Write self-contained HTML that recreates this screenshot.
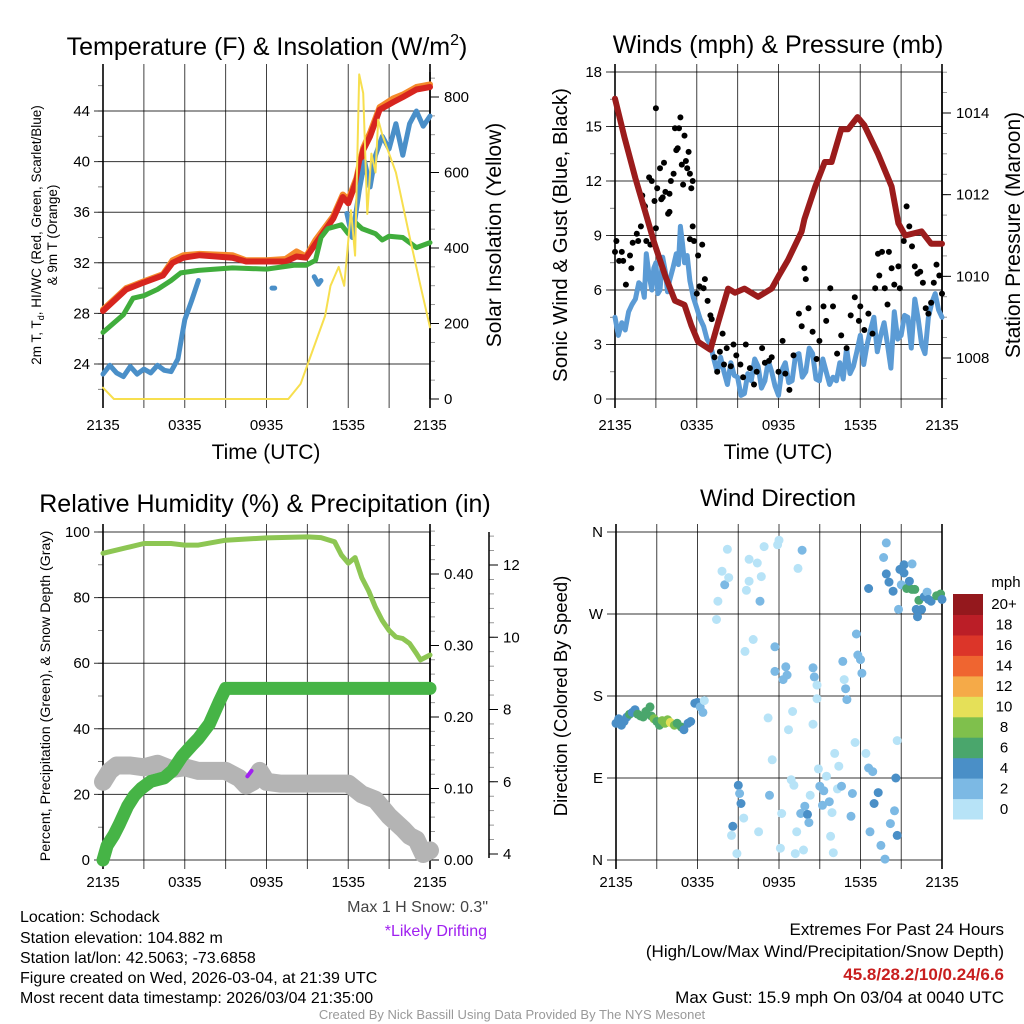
<!DOCTYPE html>
<html><head><meta charset="utf-8">
<style>
html,body{margin:0;padding:0;background:#fff;}
svg{display:block;font-family:"Liberation Sans",Arial,sans-serif;}
</style></head>
<body>
<svg id="fig" width="1024" height="1024" viewBox="0 0 1024 1024" xmlns="http://www.w3.org/2000/svg">
<rect width="1024" height="1024" fill="#fff"/>
<g id="p1"></g>
<g id="p2"></g>
<g id="p3"></g>
<g id="p4"></g>

<text x="267" y="55" font-size="25" text-anchor="middle">Temperature (F) &amp; Insolation (W/m<tspan dy="-10" font-size="16">2</tspan><tspan dy="10">)</tspan></text>
<text x="778" y="53" font-size="25" text-anchor="middle">Winds (mph) &amp; Pressure (mb)</text>
<text x="265" y="512" font-size="25" text-anchor="middle">Relative Humidity (%) &amp; Precipitation (in)</text>
<text x="778" y="506" font-size="24" text-anchor="middle">Wind Direction</text>

<text x="266" y="459" font-size="21" text-anchor="middle">Time (UTC)</text>
<text x="778" y="459" font-size="21" text-anchor="middle">Time (UTC)</text>

<g transform="translate(41,235) rotate(-90)">
<text x="0" y="0" font-size="13.5" text-anchor="middle">2m T, T<tspan font-size="9" dy="3">d</tspan><tspan dy="-3">, HI/WC (Red, Green, Scarlet/Blue)</tspan></text>
<text x="0" y="16" font-size="13.5" text-anchor="middle">&amp; 9m T (Orange)</text>
</g>
<text transform="translate(501,235) rotate(-90)" font-size="21" text-anchor="middle">Solar Insolation (Yellow)</text>
<text transform="translate(567,235) rotate(-90)" font-size="20.5" text-anchor="middle">Sonic Wind &amp; Gust (Blue, Black)</text>
<text transform="translate(1020,235) rotate(-90)" font-size="21" text-anchor="middle">Station Pressure (Maroon)</text>
<text transform="translate(50,696) rotate(-90)" font-size="14.2" text-anchor="middle">Percent, Precipitation (Green), &amp; Snow Depth (Gray)</text>
<text transform="translate(567,696) rotate(-90)" font-size="18.5" text-anchor="middle">Direction (Colored By Speed)</text>

<g font-size="16">
<text x="20" y="922">Location: Schodack</text>
<text x="20" y="943">Station elevation: 104.882 m</text>
<text x="20" y="963">Station lat/lon: 42.5063; -73.6858</text>
<text x="20" y="983">Figure created on Wed, 2026-03-04, at 21:39 UTC</text>
<text x="20" y="1003">Most recent data timestamp: 2026/03/04 21:35:00</text>
</g>
<text x="488" y="912" font-size="16" fill="#444" text-anchor="end">Max 1 H Snow: 0.3"</text>
<text x="487" y="936" font-size="16" fill="#a020f0" text-anchor="end">*Likely Drifting</text>
<g font-size="17" text-anchor="end">
<text x="1004" y="935">Extremes For Past 24 Hours</text>
<text x="1004" y="957">(High/Low/Max Wind/Precipitation/Snow Depth)</text>
<text x="1004" y="980" fill="#c81e1e" font-weight="bold">45.8/28.2/10/0.24/6.6</text>
<text x="1004" y="1003">Max Gust: 15.9 mph On 03/04 at 0040 UTC</text>
</g>
<text x="512" y="1019" font-size="13" fill="#999" text-anchor="middle">Created By Nick Bassill Using Data Provided By The NYS Mesonet</text>
</svg>
<script>
// ---------- data ----------
const timeLabels = ["2135","0335","0935","1535","2135"];
// Panel 1
const tempHours = [0,1.7,2.9,4.4,5.1,5.9,7.1,9.5,10.5,12,13.4,14.2,14.9,15.6,16.9,17.6,18,18.6,19.1,19.6,20.3,21.3,22,23,24];
const tempVals  = [28.2,29.9,30.4,31.0,32.0,32.4,32.6,32.4,32.1,32.1,32.1,32.5,32.4,33.5,35.5,37.2,36.7,38.5,40.9,42,44.1,44.7,45.1,45.7,45.9];
const t9mVals   = [28.3,30.0,30.5,31.1,32.2,32.6,32.7,32.6,32.2,32.2,32.3,32.9,32.5,33.8,35.7,37.4,37.0,38.7,41.1,42.3,44.3,45.0,45.3,45.9,46.1];
const dewHoursA = [0,0.5,1,1.5,2,2.5,3,3.5,4,4.5,5,5.5,6,6.5,7];
const dewValsA  = [23.2,23.9,23.3,23.0,23.8,23.2,23.6,23.3,23.9,23.5,23.4,24.4,27.5,29.0,30.6];
const dewHoursB = [12.4,12.6];
const dewValsB  = [30.0,30.0];
const dewHoursC = [15.5,15.8,16.0];
const dewValsC  = [30.9,30.3,30.6];
const dewHoursD = [17.9,18.3,18.8,19.2,19.6,20,20.5,21,21.5,22,22.5,23,23.5,24];
const dewValsD  = [35.9,34.0,37.7,40.0,38.0,40.5,42.0,41.0,43.0,40.5,43.0,44.0,42.8,43.6];
const wcHours = [0,1.5,2.2,3,4,5,5.7,7,9.5,12,14,14.9,15.6,16,16.5,17.5,18,18.5,19,20,20.5,21,22,23,24];
const wcVals  = [26.5,27.9,29.2,29.4,29.9,30.6,31.2,31.4,31.6,31.5,31.8,31.8,32.2,34.0,34.7,35.0,34.3,35.2,34.7,34.3,33.8,34.1,34.0,33.2,33.6];
const solarHours = [0,0.8,13.6,14.5,15.2,15.7,16.3,16.7,17.3,17.7,18.2,18.5,18.8,19.1,19.4,19.7,20.0,20.2,20.5,21.5,22.5,23.3,24];
const solarVals  = [30,0,0,40,110,160,220,300,350,300,500,380,860,810,490,650,600,740,700,600,430,300,190];
const tempTicks = [24,28,32,36,40,44];
const solarTicks = [0,200,400,600,800];
// Panel 2
const presHours = [0,0.7,1.5,2.2,2.9,3.7,4.4,5.1,5.6,6.1,7,7.6,8.3,8.8,9.5,10.5,11.5,12,12.7,13.7,13.9,14.7,15.4,15.9,16.6,17.1,17.8,18.3,19.3,20.3,20.8,21.3,22.5,23.2,24];
const presVals  = [1014.35,1013.4,1012.4,1011.6,1010.8,1010.0,1009.4,1009.3,1008.8,1008.4,1008.2,1008.9,1009.7,1009.6,1009.7,1009.5,1009.7,1010.0,1010.4,1011.1,1011.4,1012.2,1012.8,1012.8,1013.6,1013.6,1013.9,1013.7,1013.0,1012.2,1011.3,1011.0,1011.1,1010.8,1010.8];
const windHours = [0,0.25,0.5,0.75,1,1.25,1.5,1.75,2,2.15,2.3,2.5,2.7,2.85,3,3.15,3.3,3.5,3.7,3.85,4,4.25,4.5,4.65,4.8,4.95,5.1,5.3,5.5,5.75,6,6.25,6.5,6.75,7,7.25,7.5,7.75,8,8.25,8.5,8.75,9,9.25,9.5,9.75,10,10.25,10.5,10.75,11,11.25,11.5,11.75,12,12.25,12.5,12.75,13,13.25,13.5,13.75,14,14.25,14.5,14.75,15,15.25,15.5,15.75,16,16.25,16.5,16.75,17,17.25,17.5,17.75,18,18.25,18.5,18.75,19,19.25,19.5,19.75,20,20.25,20.5,20.75,21,21.25,21.5,21.75,22,22.25,22.5,22.75,23,23.25,23.5,23.75,24];
const windVals  = [4.5,3.5,4.2,3.8,4.8,5.2,5.5,6.4,6.2,5.6,8.0,6.8,6.0,7.2,7.5,5.8,6.0,7.8,7.0,5.9,6.5,7.2,8.0,7.4,9.5,8.6,7.5,7.9,6.5,5.6,5.0,4.4,4.0,3.3,3.0,2.2,1.5,2.3,1.5,0.8,2.0,1.3,1.2,0.2,0.3,1.4,1.0,2.2,1.8,0.6,1.0,2.1,1.5,0.7,0.2,1.6,2.0,0.9,1.0,2.4,2.5,1.2,1.5,2.8,2.5,1.1,1.0,2.2,1.5,0.8,1.2,1.0,2.0,1.1,2.8,1.4,1.8,2.6,3.5,1.9,3.0,3.8,4.5,2.6,3.5,4.2,3.0,1.7,4.8,3.3,3.5,4.6,4.5,2.8,5.5,4.4,3.0,2.5,4.5,5.3,5.8,4.9,4.5];
const gustHours = [0,0.1,0.3,0.5,0.6,0.8,1.1,1.2,1.3,1.6,1.7,1.9,2.0,2.1,2.2,2.3,2.5,2.6,2.7,2.9,3.0,3.1,3.3,3.4,3.0,3.5,3.6,3.7,3.9,4.0,4.1,4.3,4.0,4.5,4.6,4.4,4.7,4.9,4.8,5.0,5.1,5.2,5.3,5.4,5.5,5.6,5.7,5.7,5.8,5.5,6.1,6.2,6.4,6.5,6.6,6.0,6.8,7.0,7.1,7.3,7.5,7.7,7.9,8.0,8.2,8.5,8.7,8.9,9.2,9.4,9.6,9.9,10.2,10.4,10.8,11.0,11.3,11.5,12.0,12.3,12.5,12.8,13.1,13.5,13.7,13.9,14.0,14.2,14.5,14.8,15.0,15.3,15.5,15.8,16.0,16.3,16.6,17.0,17.3,17.6,17.9,18.0,18.3,18.6,18.9,19.1,19.3,19.4,19.6,19.8,20.0,20.1,20.3,20.5,20.8,20.9,21.2,21.4,21.6,21.8,22.0,22.2,22.4,22.6,22.8,23.0,23.2,23.4,23.6,23.8,24];
const gustVals  = [8.1,8.7,7.6,8.1,7.6,6.3,7.9,7.2,8.6,9.1,8.7,9.5,11.2,10.7,10.6,8.7,12.2,8.5,12.0,10.9,9.4,11.6,12.7,11.0,16.0,11.1,13.0,11.4,10.2,11.3,12.0,12.4,10.3,13.7,13.8,14.9,14.9,12.9,15.5,11.8,14.5,13.1,12.7,13.6,12.4,11.6,12.0,9.5,8.7,8.8,7.9,6.2,8.5,6.1,6.6,5.8,5.4,4.6,4.4,2.3,1.5,2.6,3.6,1.9,2.8,1.8,3.0,2.4,1.9,1.2,3.0,1.7,0.8,1.5,2.8,2.0,2.1,2.3,1.5,3.2,1.4,0.5,2.4,4.7,4.0,7.2,6.6,5.0,3.7,2.2,3.2,5.1,4.3,6.1,5.1,2.5,3.5,2.8,4.6,5.6,4.3,5.1,3.8,4.7,3.6,6.1,8.0,6.8,8.1,6.1,5.2,8.1,7.2,6.3,7.3,6.1,8.7,10.6,9.5,8.4,7.3,6.9,7.0,6.4,5.0,4.7,5.3,6.4,7.4,6.8,5.8];
const windTicks = [0,3,6,9,12,15,18];
const presTicks = [1008,1010,1012,1014];
// Panel 3
const rhHours = [0,2,3,5,6,7,9,12,15,16,17,17.5,18,18.5,19,19.5,20,20.5,21,21.5,22,22.5,23,23.3,24];
const rhVals  = [93.5,95.5,96.5,96.5,96,96,97.5,98.2,98.5,98.3,97,93,90.5,92.2,86,82,77,73,70,68,67.5,66,63,61,62.5];
const precipHours = [0,0.3,0.8,1.2,1.8,2.3,2.8,3.5,4.5,5.1,5.8,6.5,7,7.8,8.5,9,24];
const precipVals  = [0,0.02,0.035,0.05,0.075,0.09,0.1,0.11,0.115,0.125,0.145,0.16,0.17,0.19,0.22,0.24,0.24];
const snowHours = [0,0.5,1,2,3,4,5,6,7,8,9,10,10.5,11,11.5,12,13,14,17,18,19,20,21,22,22.5,23,23.5,24];
const snowVals  = [6.0,6.3,6.45,6.45,6.4,6.5,6.35,6.4,6.3,6.3,6.3,6.1,5.9,6.0,6.3,6.0,5.95,5.95,5.95,5.95,5.65,5.5,5.05,4.7,4.5,4.4,4.0,4.1];
const driftHours = [10.6,10.9];
const driftVals  = [6.15,6.3];
const pctTicks = [0,20,40,60,80,100];
const precipTicks = [0,0.1,0.2,0.3,0.4];
const snowTicks = [4,6,8,10,12];
// Panel 4
const dirHours = [0,0.2,0.4,0.6,0.8,1,1.2,1.4,1.6,1.8,2.0,2.2,2.5,2.6,2.8,3.0,3.2,3.4,3.6,3.8,4.0,4.3,4.5,4.8,5.0,5.3,5.5,5.8,6.0,6.2,6.4,6.5,7.4,7.5,7.8,8,8.2,8.3,8.9,9,9.1,9.2,8.6,8.5,9.4,9.5,9.6,9.8,9.8,10.1,10.4,10.5,10.6,10.7,10.9,11.2,11.3,11.5,11.7,11.7,11.9,12,12.1,12.2,12.3,12.5,12.6,12.7,12.9,13,13.1,13.2,13.3,13.4,13.6,13.7,13.8,13.9,14.1,14.2,14.3,14.5,14.5,14.6,14.8,14.8,14.9,15.0,15.2,15.3,15.5,15.7,15.8,15.9,16,16.1,16.3,16.4,16.6,16.7,16.8,16.9,17,17.3,17.4,17.6,17.7,17.8,18,18.1,18.4,18.6,18.6,18.7,18.9,19,19.3,19.5,19.7,19.8,19.9,19.9,20.1,20.2,20.4,20.5,20.6,20.7,20.7,20.8,20.9,21.0,21.2,21.2,21.4,21.6,21.8,21.8,22,22.1,22.2,22.3,22.5,22.7,22.9,23,23.2,23.6,23.9,24];
const dirVals  = [150,155,148,152,157,160,162,165,160,158,157,163,168,158,155,152,148,153,150,154,151,148,150,146,143,150,152,172,173,168,162,175,264,284,317,302,341,310,7,82,73,62,37,27,46,229,296,306,330,242,326,31,284,311,344,156,71,110,234,207,346,351,13,51,198,212,203,143,88,163,82,7,31,320,51,340,11,59,50,41,71,149,211,201,192,177,100,81,60,76,92,64,26,52,8,117,78,103,81,218,198,188,176,48,73,129,248,225,220,205,117,101,298,31,97,62,74,16,332,1,314,348,305,40,295,54,90,27,131,275,319,302,324,315,298,306,297,325,297,275,267,285,275,289,294,286,284,290,292,286];
const dirSpeeds = [4,4,4,4.5,5,6,5,4,6,7,6,6,6,7,8,7,6,8,8,8,10,8,6,7,5,4,4,4,4,2,2,1,1,1,1,3,0,1,1,4,3,4,4,1,0,1,1,0,0,0,0,0,3,1,0,1,3,0,3,3,0,0,0,0,2,3,3,1,1,1,1,0,0,0,3,3,0,3,5,3,1,1,2,2,1,0,1,2,3,3,1,3,1,0,0,0,1,0,3,3,1,3,3,3,2,0,3,3,3,3,0,2,4,3,2,4,4,3,3,3,4,3,4,3,4,3,4,4,0,2,4,2,4,4,6,4,6,3,6,4,4,6,4,4,2,4,4,6,6,4];
const dirTickLabels = ["N","E","S","W","N"];
const speedBins = ["0","2","4","6","8","10","12","14","16","18","20+"];
const speedColors = ["#b7e3f7","#7cb9e4","#4a8fc7","#4aa66c","#7fc04c","#e5e058","#f5aa48","#ef6530","#dc3529","#bb1e27","#94181d"];

// ---------- helpers ----------
const NS="http://www.w3.org/2000/svg";
function mk(parent,tag,attrs){const e=document.createElementNS(NS,tag);for(const k in attrs)e.setAttribute(k,attrs[k]);parent.appendChild(e);return e;}
function lin(d0,d1,r0,r1){return v=>r0+(v-d0)*(r1-r0)/(d1-d0);}
function pathD(xs,ys,fx,fy){return xs.map((h,i)=>(i?"L":"M")+fx(h).toFixed(1)+","+fy(ys[i]).toFixed(1)).join("");}
function line(g,xs,ys,fx,fy,color,w,name){
  const p=mk(g,"path",{d:pathD(xs,ys,fx,fy),fill:"none",stroke:color,"stroke-width":w,"stroke-linejoin":"round","stroke-linecap":"round"});
  
  
  return p;
}
function timeGrid(g,L,R,T,B,fx,labelY){
  for(let h=0;h<=24;h+=3){
    const x=fx(h);
    const gl=mk(g,"line",{x1:x,x2:x,y1:T-8,y2:B+9,stroke:"#000","stroke-width":(h===0||h===24)?1.6:1,"stroke-opacity":(h===0||h===24)?1:0.75});
    
    
  }
  if(labelY){
    timeLabels.forEach((lab,i)=>{
      const t=mk(g,"text",{x:fx(i*6),y:labelY,"font-size":15,"text-anchor":"middle"});
      t.textContent=lab;
      
      
    });
  }
}
function hGrid(g,L,R,ticks,fy,labels){
  ticks.forEach((v,i)=>{
    const y=fy(v);
    const gl=mk(g,"line",{x1:L-9,x2:R,y1:y,y2:y,stroke:"#000","stroke-width":1,"stroke-opacity":0.8});
    
    
    const t=mk(g,"text",{x:L-13,y:y+5,"font-size":15,"text-anchor":"end"});
    t.textContent=labels?labels[i]:v;
    
    
  });
}
function minorLeft(g,L,from,to,step,fy){
  for(let v=from;v<=to+1e-9;v+=step){const y=fy(v);mk(g,"line",{x1:L-5,x2:L,y1:y,y2:y,stroke:"#000","stroke-width":0.8,"stroke-opacity":0.6});}
}
function rightAxis(g,ax,T,B,ticks,fy,minFrom,minTo,minStep,fmt,name,drawSpine){
  if(drawSpine){mk(g,"line",{x1:ax,x2:ax,y1:T,y2:B,stroke:"#000","stroke-width":1.5});}
  for(let v=minFrom;v<=minTo+1e-9;v+=minStep){const y=fy(v);if(y>=T-1&&y<=B+1)mk(g,"line",{x1:ax,x2:ax+5,y1:y,y2:y,stroke:"#000","stroke-width":0.8,"stroke-opacity":0.5});}
  ticks.forEach(v=>{
    const y=fy(v);
    mk(g,"line",{x1:ax,x2:ax+9,y1:y,y2:y,stroke:"#000","stroke-width":1});
    const t=mk(g,"text",{x:ax+14,y:y+5,"font-size":15});
    t.textContent=fmt(v);
    
    
  });
}

// ---------- Panel 1 ----------
(function(){
  const g=document.getElementById("p1");
  const L=103,R=430,T=72,B=399;
  const fx=lin(0,24,L,R), fy=lin(24,44,364,111), fs=lin(0,800,399,97);
  hGrid(g,L,R,tempTicks,fy);
  minorLeft(g,L,22,46,2,fy);
  timeGrid(g,L,R,T,B,fx,430);
  mk(g,"line",{x1:R,x2:R,y1:T,y2:B,stroke:"#000","stroke-width":1.5});
  rightAxis(g,R,T,B,solarTicks,fs,0,850,50,v=>v,"solar-tick-label",false);
  line(g,tempHours,t9mVals,fx,fy,"#f58a2b",6,"nine-meter-temp-line");
  line(g,tempHours,tempVals,fx,fy,"#d7251f",6,"temperature-line");
  line(g,wcHours,wcVals,fx,fy,"#40ad3c",5,"wind-chill-line");
  line(g,dewHoursA,dewValsA,fx,fy,"#4a8fc8",5,"dewpoint-line");
  line(g,dewHoursB,dewValsB,fx,fy,"#4a8fc8",5,"dewpoint-line");
  line(g,dewHoursC,dewValsC,fx,fy,"#4a8fc8",5,"dewpoint-line");
  line(g,dewHoursD,dewValsD,fx,fy,"#4a8fc8",5,"dewpoint-line");
  line(g,solarHours,solarVals,fx,fs,"#f7df4f",2,"solar-line");
})();

// ---------- Panel 2 ----------
(function(){
  const g=document.getElementById("p2");
  const L=615,R=942,T=72,B=399;
  const fx=lin(0,24,L,R), fy=lin(0,18,B,T), fp=lin(1008,1014,358,113);
  hGrid(g,L,R,windTicks,fy);
  minorLeft(g,L,0,18,1.5,fy);
  timeGrid(g,L,R,T,B,fx,430);
  mk(g,"line",{x1:R,x2:R,y1:T,y2:B,stroke:"#000","stroke-width":1.5});
  rightAxis(g,R,T,B,presTicks,fp,1007,1015.5,0.5,v=>v,"pressure-tick-label",false);
  line(g,windHours,windVals,fx,fy,"#5b9bd5",5,"wind-speed-line");
  gustHours.forEach((h,i)=>{
    const c=mk(g,"circle",{cx:fx(h).toFixed(1),cy:fy(gustVals[i]).toFixed(1),r:3,fill:"#000"});
    
    
  });
  line(g,presHours,presVals,fx,fp,"#9b1c1c",6,"pressure-line");
})();

// ---------- Panel 3 ----------
(function(){
  const g=document.getElementById("p3");
  const L=103,R=430,T=532,B=860;
  const fx=lin(0,24,L,R), fy=lin(0,100,B,T), fpr=lin(0,0.4,B,574), fsn=lin(4,12,854,565);
  hGrid(g,L,R,pctTicks,fy);
  minorLeft(g,L,0,100,10,fy);
  timeGrid(g,L,R,T,B,fx,887);
  mk(g,"line",{x1:R,x2:R,y1:T,y2:B,stroke:"#000","stroke-width":1.5});
  rightAxis(g,R,T,B,precipTicks,fpr,0,0.46,0.02,v=>v.toFixed(2),"precip-tick-label",false);
  rightAxis(g,489,532,858,snowTicks,fsn,3.6,12.8,0.4,v=>v,"snow-tick-label",true);
  line(g,snowHours,snowVals,fx,fsn,"#b4b4b4",18,"snow-depth-line");
  line(g,driftHours,driftVals,fx,fsn,"#a020f0",4,"drifting-segment");
  line(g,precipHours,precipVals,fx,fpr,"#46b446",13,"precipitation-line");
  line(g,rhHours,rhVals,fx,fy,"#8dc653",5,"humidity-line");
})();

// ---------- Panel 4 ----------
(function(){
  const g=document.getElementById("p4");
  const L=616,R=942,T=532,B=860;
  const fx=lin(0,24,L,R), fy=lin(0,360,B,T);
  hGrid(g,L,R,[0,90,180,270,360],fy,dirTickLabels);
  timeGrid(g,L,R,T,B,fx,887);
  function binOf(s){return Math.min(10,Math.floor(s/2));}
  dirHours.forEach((h,i)=>{
    const c=mk(g,"circle",{cx:fx(h).toFixed(1),cy:fy(dirVals[i]).toFixed(1),r:4.5,fill:speedColors[binOf(dirSpeeds[i])]});
    
    
  });
  const cb=mk(g,"g",{});
  
  
  const top=594,bot=819,h=(bot-top)/speedBins.length;
  speedBins.forEach((lab,i)=>{
    const y=bot-(i+1)*h;
    const r=mk(cb,"rect",{x:953,y:y.toFixed(1),width:30,height:(h+0.5).toFixed(1),fill:speedColors[i]});
    
    
    const t=mk(cb,"text",{x:1004,y:(y+h/2+5).toFixed(1),"font-size":15,"text-anchor":"middle"});
    t.textContent=lab;
    
    
  });
  const u=mk(cb,"text",{x:1006,y:587,"font-size":15,"text-anchor":"middle"});
  u.textContent="mph";
  
  
})();
</script>
</body></html>
